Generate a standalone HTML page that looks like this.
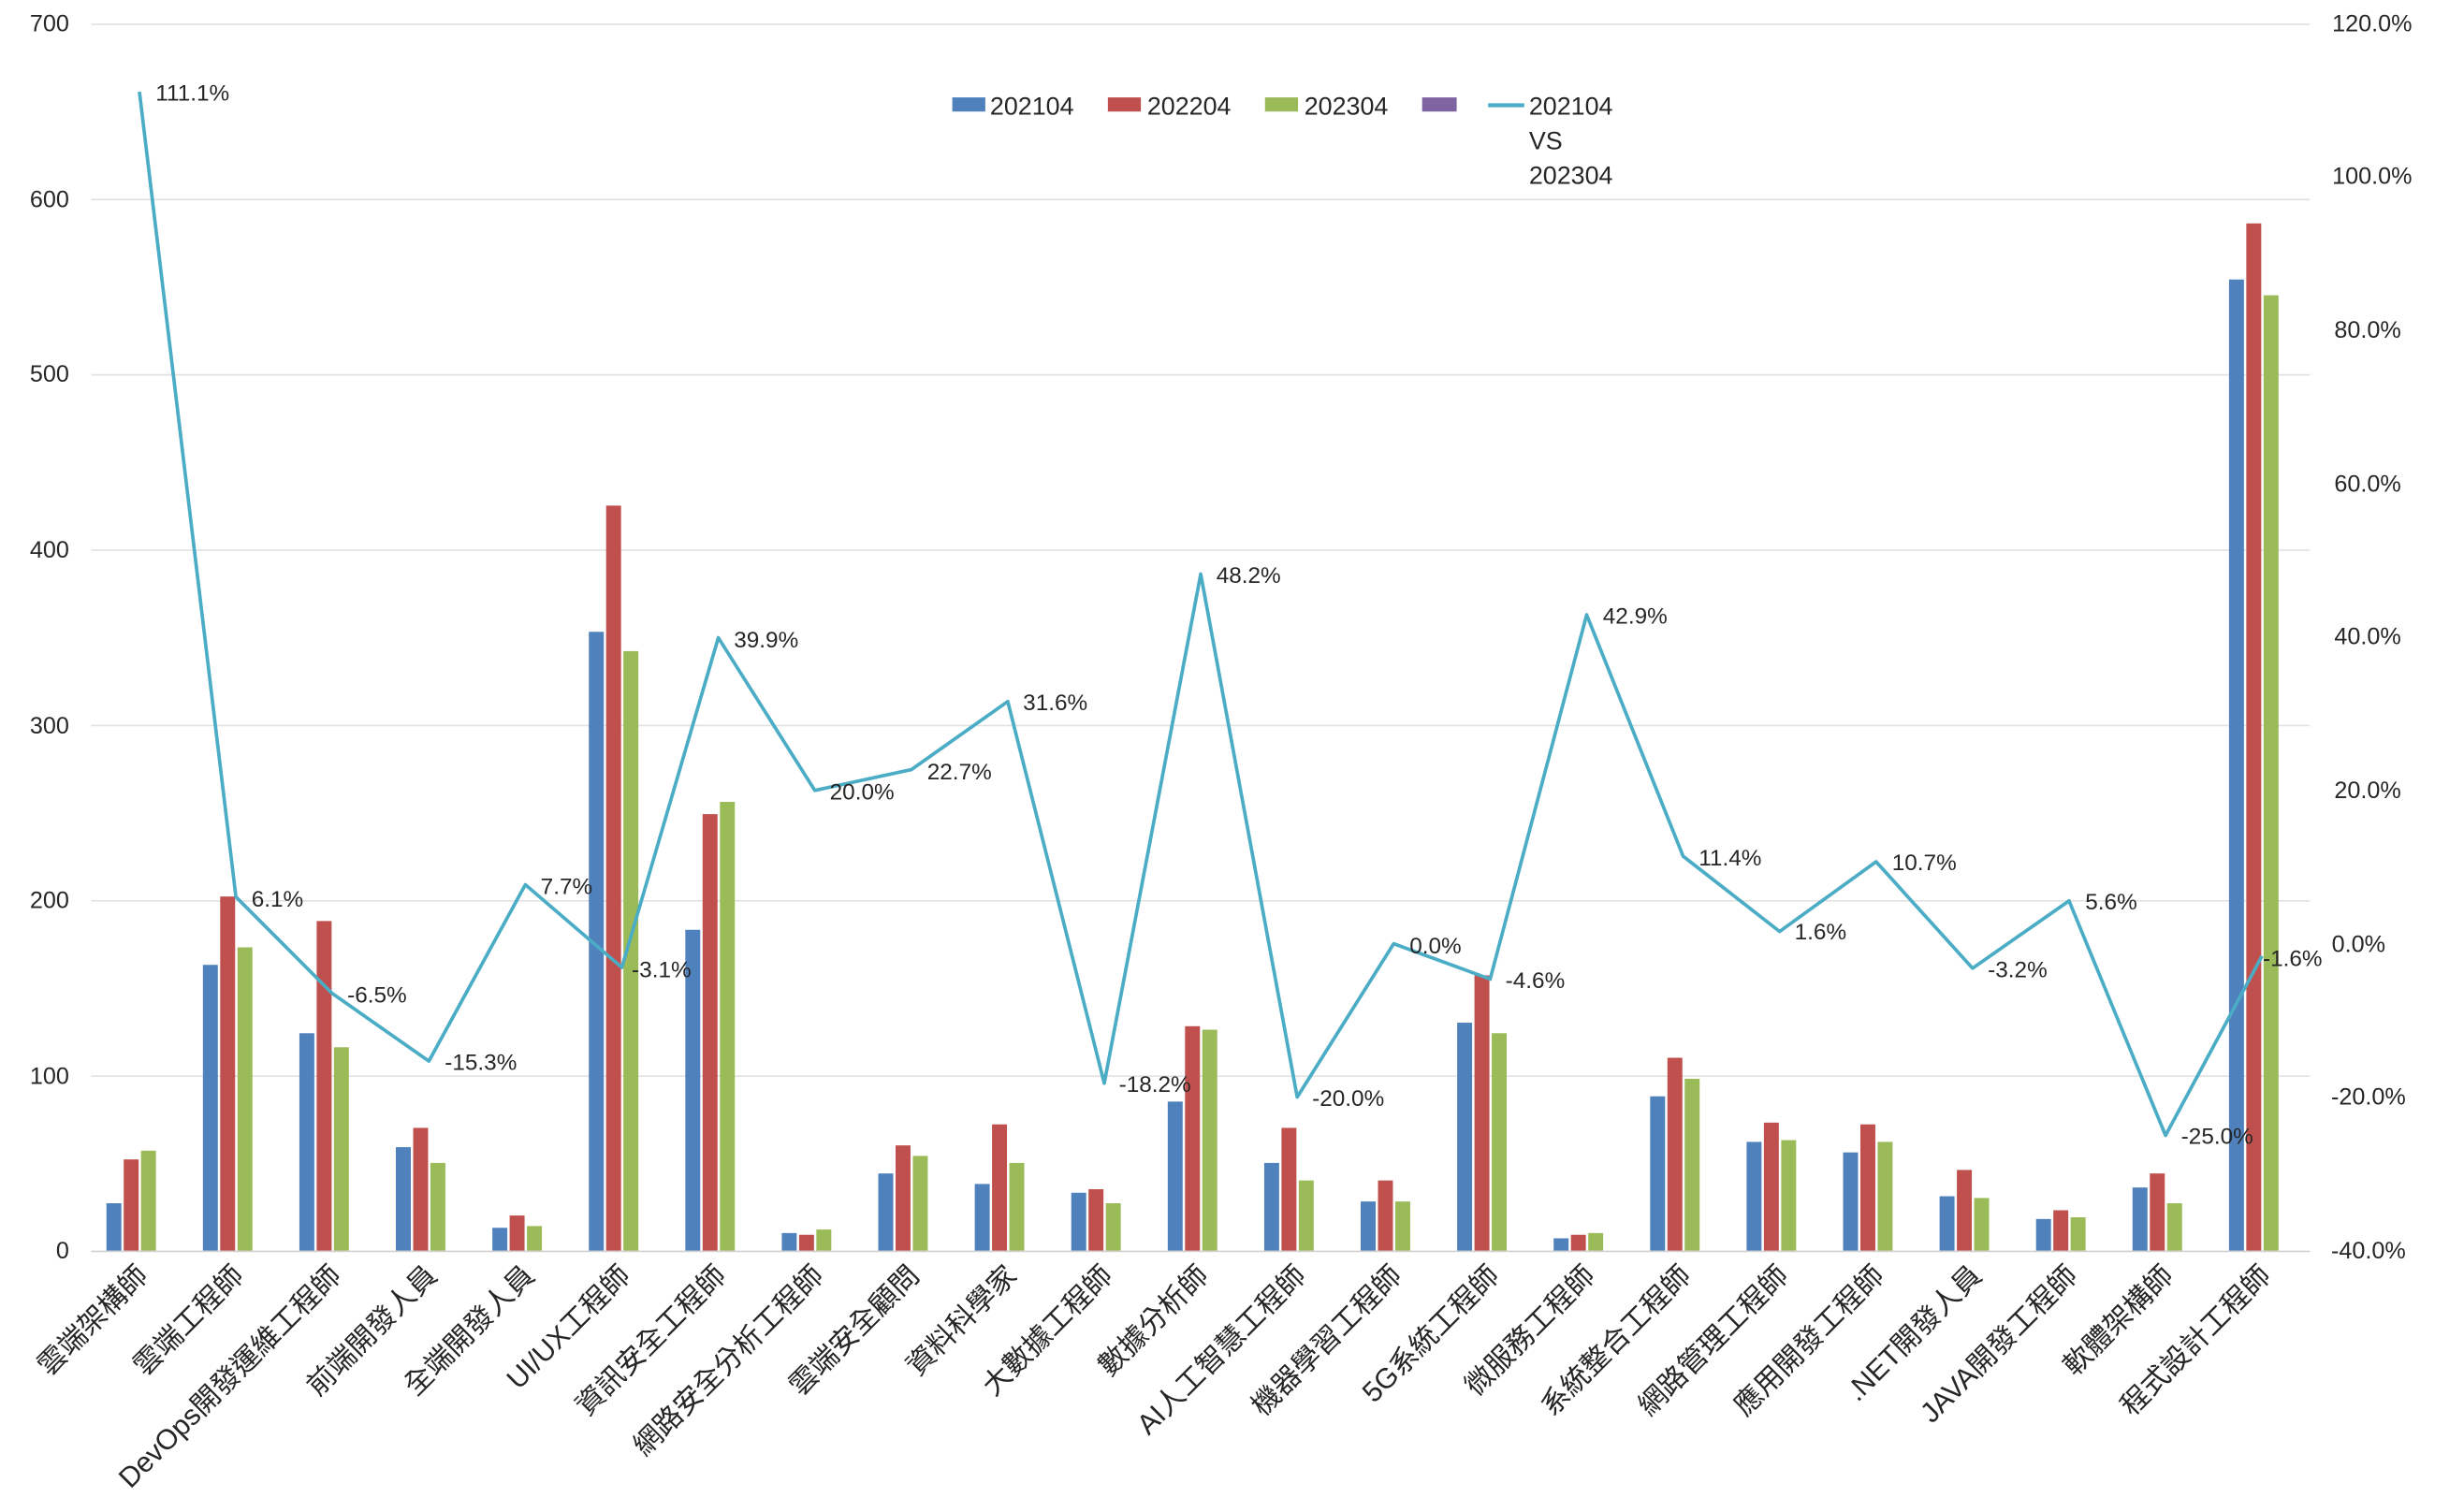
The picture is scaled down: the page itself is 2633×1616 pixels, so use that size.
<!DOCTYPE html>
<html><head><meta charset="utf-8"><style>
html,body{margin:0;padding:0;background:#fff}
svg{display:block}
text{font-family:"Liberation Sans Narrow","Liberation Sans","Noto Sans CJK TC",sans-serif;fill:#262626}
.ax{font-size:15px}
.dl{font-size:14.5px}
.xl{font-family:"Liberation Sans","Noto Sans CJK TC",sans-serif;font-size:18px}
</style></head><body>
<svg width="2633" height="1616" viewBox="0 0 1568 962.4" xmlns="http://www.w3.org/2000/svg">
<rect width="1568" height="962.4" fill="#fff"/>
<g stroke="#e2e2e2" stroke-width="1">
<line x1="58" x2="1470" y1="15.5" y2="15.5"/>
<line x1="58" x2="1470" y1="127" y2="127"/>
<line x1="58" x2="1470" y1="238.6" y2="238.6"/>
<line x1="58" x2="1470" y1="350.2" y2="350.2"/>
<line x1="58" x2="1470" y1="461.8" y2="461.8"/>
<line x1="58" x2="1470" y1="573.4" y2="573.4"/>
<line x1="58" x2="1470" y1="685" y2="685"/>
<line x1="58" x2="1470" y1="796.5" y2="796.5" stroke="#d0d0d0"/>
</g>
<g class="ax" text-anchor="end">
<text x="44" y="20">700</text><text x="44" y="132">600</text><text x="44" y="243">500</text><text x="44" y="355">400</text><text x="44" y="467">300</text><text x="44" y="578">200</text><text x="44" y="690">100</text><text x="44" y="801">0</text>
</g>
<g class="ax" text-anchor="end">
<text x="1535" y="20">120.0%</text><text x="1535" y="117">100.0%</text><text x="1528" y="215">80.0%</text><text x="1528" y="313">60.0%</text><text x="1528" y="410">40.0%</text><text x="1528" y="508">20.0%</text><text x="1518" y="606">0.0%</text><text x="1531" y="703">-20.0%</text><text x="1531" y="801">-40.0%</text>
</g>
<g transform="translate(0,796) scale(1,-1.1157)">
<g transform="translate(88.7,0)"><rect x="-21" width="9.5" height="27" fill="#4F81BD"/><rect x="-10" width="9.5" height="52" fill="#C0504D"/><rect x="1" width="9.5" height="57" fill="#9BBB59"/></g>
<g transform="translate(150.1,0)"><rect x="-21" width="9.5" height="163" fill="#4F81BD"/><rect x="-10" width="9.5" height="202" fill="#C0504D"/><rect x="1" width="9.5" height="173" fill="#9BBB59"/></g>
<g transform="translate(211.5,0)"><rect x="-21" width="9.5" height="124" fill="#4F81BD"/><rect x="-10" width="9.5" height="188" fill="#C0504D"/><rect x="1" width="9.5" height="116" fill="#9BBB59"/></g>
<g transform="translate(272.9,0)"><rect x="-21" width="9.5" height="59" fill="#4F81BD"/><rect x="-10" width="9.5" height="70" fill="#C0504D"/><rect x="1" width="9.5" height="50" fill="#9BBB59"/></g>
<g transform="translate(334.3,0)"><rect x="-21" width="9.5" height="13" fill="#4F81BD"/><rect x="-10" width="9.5" height="20" fill="#C0504D"/><rect x="1" width="9.5" height="14" fill="#9BBB59"/></g>
<g transform="translate(395.7,0)"><rect x="-21" width="9.5" height="353" fill="#4F81BD"/><rect x="-10" width="9.5" height="425" fill="#C0504D"/><rect x="1" width="9.5" height="342" fill="#9BBB59"/></g>
<g transform="translate(457.1,0)"><rect x="-21" width="9.5" height="183" fill="#4F81BD"/><rect x="-10" width="9.5" height="249" fill="#C0504D"/><rect x="1" width="9.5" height="256" fill="#9BBB59"/></g>
<g transform="translate(518.5,0)"><rect x="-21" width="9.5" height="10" fill="#4F81BD"/><rect x="-10" width="9.5" height="9" fill="#C0504D"/><rect x="1" width="9.5" height="12" fill="#9BBB59"/></g>
<g transform="translate(579.9,0)"><rect x="-21" width="9.5" height="44" fill="#4F81BD"/><rect x="-10" width="9.5" height="60" fill="#C0504D"/><rect x="1" width="9.5" height="54" fill="#9BBB59"/></g>
<g transform="translate(641.3,0)"><rect x="-21" width="9.5" height="38" fill="#4F81BD"/><rect x="-10" width="9.5" height="72" fill="#C0504D"/><rect x="1" width="9.5" height="50" fill="#9BBB59"/></g>
<g transform="translate(702.7,0)"><rect x="-21" width="9.5" height="33" fill="#4F81BD"/><rect x="-10" width="9.5" height="35" fill="#C0504D"/><rect x="1" width="9.5" height="27" fill="#9BBB59"/></g>
<g transform="translate(764.1,0)"><rect x="-21" width="9.5" height="85" fill="#4F81BD"/><rect x="-10" width="9.5" height="128" fill="#C0504D"/><rect x="1" width="9.5" height="126" fill="#9BBB59"/></g>
<g transform="translate(825.5,0)"><rect x="-21" width="9.5" height="50" fill="#4F81BD"/><rect x="-10" width="9.5" height="70" fill="#C0504D"/><rect x="1" width="9.5" height="40" fill="#9BBB59"/></g>
<g transform="translate(886.9,0)"><rect x="-21" width="9.5" height="28" fill="#4F81BD"/><rect x="-10" width="9.5" height="40" fill="#C0504D"/><rect x="1" width="9.5" height="28" fill="#9BBB59"/></g>
<g transform="translate(948.3,0)"><rect x="-21" width="9.5" height="130" fill="#4F81BD"/><rect x="-10" width="9.5" height="157" fill="#C0504D"/><rect x="1" width="9.5" height="124" fill="#9BBB59"/></g>
<g transform="translate(1009.7,0)"><rect x="-21" width="9.5" height="7" fill="#4F81BD"/><rect x="-10" width="9.5" height="9" fill="#C0504D"/><rect x="1" width="9.5" height="10" fill="#9BBB59"/></g>
<g transform="translate(1071.1,0)"><rect x="-21" width="9.5" height="88" fill="#4F81BD"/><rect x="-10" width="9.5" height="110" fill="#C0504D"/><rect x="1" width="9.5" height="98" fill="#9BBB59"/></g>
<g transform="translate(1132.5,0)"><rect x="-21" width="9.5" height="62" fill="#4F81BD"/><rect x="-10" width="9.5" height="73" fill="#C0504D"/><rect x="1" width="9.5" height="63" fill="#9BBB59"/></g>
<g transform="translate(1193.9,0)"><rect x="-21" width="9.5" height="56" fill="#4F81BD"/><rect x="-10" width="9.5" height="72" fill="#C0504D"/><rect x="1" width="9.5" height="62" fill="#9BBB59"/></g>
<g transform="translate(1255.3,0)"><rect x="-21" width="9.5" height="31" fill="#4F81BD"/><rect x="-10" width="9.5" height="46" fill="#C0504D"/><rect x="1" width="9.5" height="30" fill="#9BBB59"/></g>
<g transform="translate(1316.7,0)"><rect x="-21" width="9.5" height="18" fill="#4F81BD"/><rect x="-10" width="9.5" height="23" fill="#C0504D"/><rect x="1" width="9.5" height="19" fill="#9BBB59"/></g>
<g transform="translate(1378.1,0)"><rect x="-21" width="9.5" height="36" fill="#4F81BD"/><rect x="-10" width="9.5" height="44" fill="#C0504D"/><rect x="1" width="9.5" height="27" fill="#9BBB59"/></g>
<g transform="translate(1439.5,0)"><rect x="-21" width="9.5" height="554" fill="#4F81BD"/><rect x="-10" width="9.5" height="586" fill="#C0504D"/><rect x="1" width="9.5" height="545" fill="#9BBB59"/></g>
</g>
<polyline fill="none" stroke="#4BACC6" stroke-width="2.2" stroke-linejoin="round" points="88.7,58.4 150.1,570.9 211.5,632.4 272.9,675.4 334.3,563.1 395.7,615.8 457.1,405.9 518.5,503.1 579.9,489.9 641.3,446.5 702.7,689.5 764.1,365.4 825.5,698.3 886.9,600.7 948.3,623.2 1009.7,391.3 1071.1,545.0 1132.5,592.9 1193.9,548.5 1255.3,616.3 1316.7,573.4 1378.1,722.7 1439.5,608.5"/>
<g class="dl">
<text x="99" y="64">111.1%</text>
<text x="160" y="577">6.1%</text>
<text x="221" y="638">-6.5%</text>
<text x="283" y="681">-15.3%</text>
<text x="344" y="569">7.7%</text>
<text x="402" y="622">-3.1%</text>
<text x="467" y="412">39.9%</text>
<text x="528" y="509">20.0%</text>
<text x="590" y="496">22.7%</text>
<text x="651" y="452">31.6%</text>
<text x="712" y="695">-18.2%</text>
<text x="774" y="371">48.2%</text>
<text x="835" y="704">-20.0%</text>
<text x="897" y="607">0.0%</text>
<text x="958" y="629">-4.6%</text>
<text x="1020" y="397">42.9%</text>
<text x="1081" y="551">11.4%</text>
<text x="1142" y="598">1.6%</text>
<text x="1204" y="554">10.7%</text>
<text x="1265" y="622">-3.2%</text>
<text x="1327" y="579">5.6%</text>
<text x="1388" y="728">-25.0%</text>
<text x="1440" y="615">-1.6%</text>
</g>
<g class="ax" style="font-size:16px">
<rect x="606" y="62" width="21" height="9" fill="#4F81BD"/><text x="630" y="73">202104</text>
<rect x="705" y="62" width="21" height="9" fill="#C0504D"/><text x="730" y="73">202204</text>
<rect x="805" y="62" width="21" height="9" fill="#9BBB59"/><text x="830" y="73">202304</text>
<rect x="905" y="62" width="22" height="9" fill="#8064A2"/>
<line x1="947" x2="970" y1="67" y2="67" stroke="#4BACC6" stroke-width="2.5"/>
<text x="973" y="73">202104</text><text x="973" y="95">VS</text><text x="973" y="117">202304</text>
</g>
<g class="xl" text-anchor="end">
<text transform="translate(95,813) rotate(-45)">雲端架構師</text>
<text transform="translate(156,813) rotate(-45)">雲端工程師</text>
<text transform="translate(218,813) rotate(-45)">DevOps開發運維工程師</text>
<text transform="translate(279,813) rotate(-45)">前端開發人員</text>
<text transform="translate(341,813) rotate(-45)">全端開發人員</text>
<text transform="translate(402,813) rotate(-45)">UI/UX工程師</text>
<text transform="translate(463,813) rotate(-45)">資訊安全工程師</text>
<text transform="translate(525,813) rotate(-45)">網路安全分析工程師</text>
<text transform="translate(586,813) rotate(-45)">雲端安全顧問</text>
<text transform="translate(648,813) rotate(-45)">資料科學家</text>
<text transform="translate(709,813) rotate(-45)">大數據工程師</text>
<text transform="translate(770,813) rotate(-45)">數據分析師</text>
<text transform="translate(832,813) rotate(-45)">AI人工智慧工程師</text>
<text transform="translate(893,813) rotate(-45)">機器學習工程師</text>
<text transform="translate(955,813) rotate(-45)">5G系統工程師</text>
<text transform="translate(1016,813) rotate(-45)">微服務工程師</text>
<text transform="translate(1077,813) rotate(-45)">系統整合工程師</text>
<text transform="translate(1139,813) rotate(-45)">網路管理工程師</text>
<text transform="translate(1200,813) rotate(-45)">應用開發工程師</text>
<text transform="translate(1262,813) rotate(-45)">.NET開發人員</text>
<text transform="translate(1323,813) rotate(-45)">JAVA開發工程師</text>
<text transform="translate(1384,813) rotate(-45)">軟體架構師</text>
<text transform="translate(1446,813) rotate(-45)">程式設計工程師</text>
</g>
</svg>
</body></html>
